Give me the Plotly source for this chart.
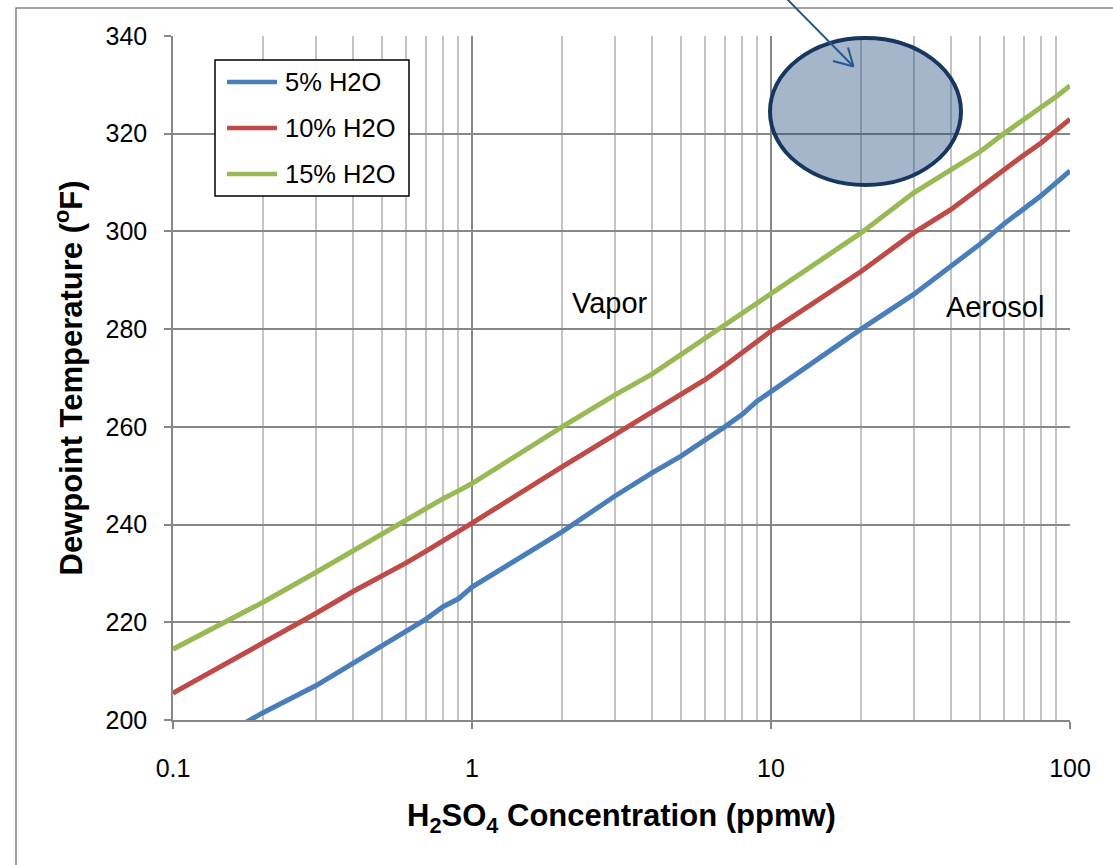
import plotly.graph_objects as go

# H2SO4 concentration grid (ppmw), log-spaced 1..9 per decade
conc = [0.1, 0.2, 0.3, 0.4, 0.5, 0.6, 0.7, 0.8, 0.9,
        1, 2, 3, 4, 5, 6, 7, 8, 9,
        10, 20, 30, 40, 50, 60, 70, 80, 90, 100]

# Dewpoint temperatures (°F) for each flue-gas moisture level
dew_5 = [191.0, 201.5, 207.0, 211.6, 215.3, 218.2, 220.6, 223.2, 224.8,
         227.2, 238.5, 245.8, 250.6, 254.0, 257.1, 260.0, 262.5, 265.3,
         267.2, 280.0, 287.1, 292.8, 297.4, 301.5, 304.6, 307.3, 310.0, 312.4]
dew_10 = [205.5, 215.6, 221.8, 226.3, 229.4, 232.1, 234.5, 236.6, 238.5,
          240.3, 251.8, 258.4, 262.9, 266.5, 269.6, 272.5, 275.1, 277.5,
          279.6, 291.8, 299.7, 304.5, 309.0, 312.6, 315.6, 318.1, 320.6, 323.0]
dew_15 = [214.5, 224.1, 230.2, 234.6, 238.0, 241.0, 243.4, 245.3, 246.9,
          248.4, 260.0, 266.5, 270.8, 274.8, 278.0, 281.0, 283.2, 285.5,
          287.2, 299.7, 307.9, 312.6, 316.3, 320.0, 322.8, 325.2, 327.6, 329.8]

series_names = ["5% H2O", "10% H2O", "15% H2O"]
series_values = [dew_5, dew_10, dew_15]
series_colors = ["#4a7ebb", "#be4b48", "#98b954"]

x_tick_vals = [0.1, 1, 10, 100]
x_tick_text = ["0.1", "1", "10", "100"]
y_tick_vals = [200, 220, 240, 260, 280, 300, 320, 340]

FONT = "Arial, Liberation Sans, sans-serif"
MAJOR_GRID = "#878787"
MINOR_GRID = "#c3c3c3"

fig = go.Figure()
for name, vals, col in zip(series_names, series_values, series_colors):
    fig.add_trace(go.Scatter(
        x=conc, y=vals, name=name, mode="lines",
        line=dict(color=col, width=5),
        showlegend=False, cliponaxis=True,
    ))

# plot-area geometry in pixels (used for paper-space decorations)
W, H = 1113, 865
L, R, T, B = 173, 43, 36, 145
pw, ph = W - L - R, H - T - B


def px(xp):
    return (xp - L) / pw


def py(yp):
    return (H - B - yp) / ph


shapes = []
# chart-area frame
shapes.append(dict(type="rect", xref="paper", yref="paper",
                   x0=px(16), x1=px(1125), y0=py(880), y1=py(8),
                   line=dict(color="#868686", width=1.5), fillcolor="rgba(0,0,0,0)",
                   layer="below"))

# legend box with line samples
shapes.append(dict(type="rect", xref="paper", yref="paper",
                   x0=px(215), x1=px(409), y0=py(196), y1=py(60),
                   line=dict(color="black", width=1.5), fillcolor="white"))
legend_rows = [82, 128, 174]
annotations = []
for yy, name, col in zip(legend_rows, series_names, series_colors):
    shapes.append(dict(type="line", xref="paper", yref="paper",
                       x0=px(227), x1=px(277), y0=py(yy), y1=py(yy),
                       line=dict(color=col, width=4.7)))
    annotations.append(dict(xref="paper", yref="paper", x=px(283), y=py(yy),
                            text=name, showarrow=False, xanchor="left", yanchor="middle",
                            font=dict(family=FONT, size=25.5, color="black")))

# highlighted region (ellipse) with a pointer arrow
shapes.append(dict(type="circle", xref="paper", yref="paper",
                   x0=px(770), x1=px(961), y0=py(185), y1=py(38),
                   line=dict(color="#17375e", width=4),
                   fillcolor="rgba(31,73,125,0.4)"))
arrow_col = "#27578f"
tip = (853.5, 66.5)
shapes.append(dict(type="line", xref="paper", yref="paper",
                   x0=px(786), y0=py(-2), x1=px(tip[0]), y1=py(tip[1]),
                   line=dict(color=arrow_col, width=2)))
shapes.append(dict(type="line", xref="paper", yref="paper",
                   x0=px(833), y0=py(61), x1=px(tip[0]), y1=py(tip[1]),
                   line=dict(color=arrow_col, width=2)))
shapes.append(dict(type="line", xref="paper", yref="paper",
                   x0=px(848), y0=py(47.5), x1=px(tip[0]), y1=py(tip[1]),
                   line=dict(color=arrow_col, width=2)))

# region labels
annotations.append(dict(x=0.4615, y=285.4, xref="x", yref="y", text="Vapor",
                        showarrow=False, font=dict(family=FONT, size=29, color="black")))
annotations.append(dict(x=1.749, y=284.6, xref="x", yref="y", text="Aerosol",
                        showarrow=False, font=dict(family=FONT, size=29, color="black")))

fig.update_layout(
    width=W, height=H,
    margin=dict(l=L, r=R, t=T, b=B, autoexpand=False),
    paper_bgcolor="white", plot_bgcolor="white",
    font=dict(family=FONT, color="black"),
    shapes=shapes, annotations=annotations,
    xaxis=dict(
        type="log", range=[-1, 2],
        tickvals=x_tick_vals, ticktext=x_tick_text,
        tickfont=dict(size=25, family=FONT, color="black"),
        ticks="outside", ticklen=7, tickcolor=MAJOR_GRID, tickwidth=1.5,
        ticklabelstandoff=18,
        showline=True, linecolor=MAJOR_GRID, linewidth=1.5,
        showgrid=True, gridcolor=MAJOR_GRID, gridwidth=1.5,
        minor=dict(dtick="D1", showgrid=True, gridcolor=MINOR_GRID, gridwidth=1.5, ticks=""),
        zeroline=False,
        title=dict(text="H<sub>2</sub>SO<sub>4</sub> Concentration (ppmw)",
                   font=dict(size=31, family=FONT, color="black", weight="bold"),
                   standoff=24),
    ),
    yaxis=dict(
        range=[200, 340], tickvals=y_tick_vals,
        tickfont=dict(size=25, family=FONT, color="black"),
        ticks="outside", ticklen=7, tickcolor=MAJOR_GRID, tickwidth=1.5,
        ticklabelstandoff=12,
        showline=True, linecolor=MAJOR_GRID, linewidth=1.5,
        showgrid=True, gridcolor=MAJOR_GRID, gridwidth=1.5,
        zeroline=False,
        title=dict(text="Dewpoint Temperature (<sup>o</sup>F)",
                   font=dict(size=31, family=FONT, color="black", weight="bold"),
                   standoff=14),
    ),
)

fig.write_html("out.html")
